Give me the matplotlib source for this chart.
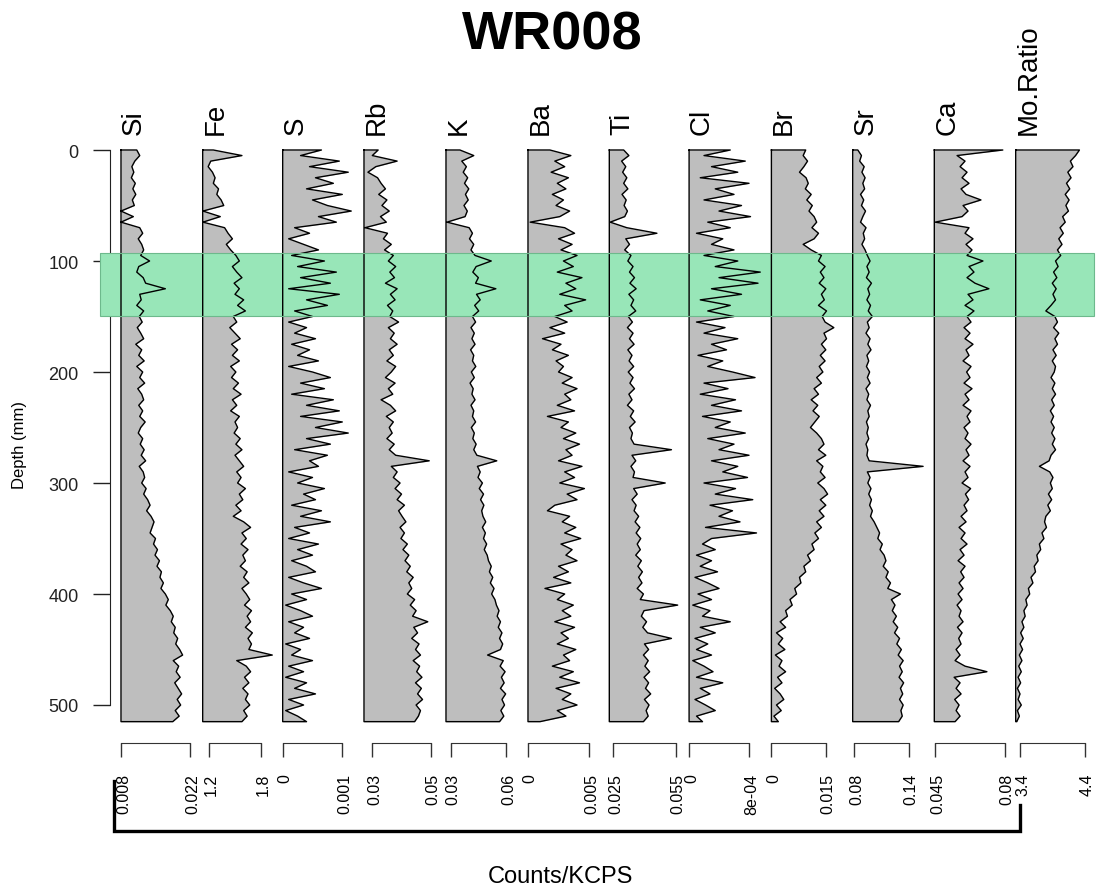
import numpy as np
import matplotlib.pyplot as plt
from matplotlib.lines import Line2D
from matplotlib.patches import Rectangle
from matplotlib.transforms import ScaledTranslation

plt.rcParams['font.family'] = ['Liberation Sans', 'DejaVu Sans']

# ---------------- data (one value every 5 mm) ----------------
depth = np.arange(0, 516, 5)

elements = ['Si', 'Fe', 'S', 'Rb', 'K', 'Ba', 'Ti', 'Cl', 'Br', 'Sr', 'Ca', 'Mo.Ratio']

si = [0.0112, 0.0118, 0.0108, 0.0102, 0.0106, 0.0101, 0.0109, 0.0104, 0.0110, 0.0103,
      0.0107, 0.0080, 0.0105, 0.0080, 0.0118, 0.0124, 0.0115, 0.0122, 0.0126, 0.0120,
      0.0138, 0.0116, 0.0112, 0.0125, 0.0130, 0.0170, 0.0118, 0.0121, 0.0112, 0.0126,
      0.0117, 0.0123, 0.0113, 0.0120, 0.0126, 0.0110, 0.0122, 0.0116, 0.0127, 0.0112,
      0.0124, 0.0118, 0.0128, 0.0114, 0.0122, 0.0126, 0.0116, 0.0124, 0.0118, 0.0129,
      0.0120, 0.0115, 0.0124, 0.0119, 0.0127, 0.0121, 0.0130, 0.0117, 0.0125, 0.0128,
      0.0122, 0.0131, 0.0126, 0.0134, 0.0139, 0.0132, 0.0141, 0.0147, 0.0143, 0.0139,
      0.0150, 0.0146, 0.0154, 0.0149, 0.0158, 0.0153, 0.0162, 0.0159, 0.0166, 0.0161,
      0.0170, 0.0176, 0.0171, 0.0180, 0.0186, 0.0182, 0.0190, 0.0187, 0.0195, 0.0191,
      0.0199, 0.0205, 0.0186, 0.0197, 0.0192, 0.0200, 0.0189, 0.0196, 0.0203, 0.0194,
      0.0201, 0.0190, 0.0198, 0.0185]

fe = [1.25, 1.58, 1.22, 1.19, 1.24, 1.27, 1.25, 1.31, 1.29, 1.34,
      1.37, 1.13, 1.33, 1.13, 1.38, 1.42, 1.47, 1.40, 1.45, 1.51,
      1.55, 1.47, 1.52, 1.58, 1.49, 1.55, 1.50, 1.60, 1.53, 1.62,
      1.48, 1.52, 1.44, 1.50, 1.56, 1.46, 1.53, 1.47, 1.55, 1.45,
      1.51, 1.46, 1.54, 1.48, 1.57, 1.47, 1.52, 1.45, 1.55, 1.50,
      1.53, 1.49, 1.56, 1.51, 1.58, 1.50, 1.55, 1.60, 1.52, 1.57,
      1.53, 1.62, 1.55, 1.59, 1.51, 1.57, 1.48, 1.60, 1.68, 1.58,
      1.63, 1.57, 1.65, 1.59, 1.62, 1.56, 1.64, 1.60, 1.66, 1.58,
      1.63, 1.67, 1.61, 1.69, 1.64, 1.68, 1.62, 1.70, 1.65, 1.69,
      1.66, 1.93, 1.52, 1.63, 1.68, 1.61, 1.66, 1.59, 1.65, 1.62,
      1.67, 1.60, 1.64, 1.58]

s = [0.00065, 0.00030, 0.00095, 0.00045, 0.00110, 0.00055, 0.00085, 0.00040, 0.00100, 0.00050,
     0.00075, 0.00115, 0.00060, 0.00090, 0.00020, 0.00045, 0.00010, 0.00035, 0.00060, 0.00015,
     0.00070, 0.00025, 0.00090, 0.00030, 0.00080, 0.00010, 0.00095, 0.00040, 0.00075, 0.00020,
     0.00050, 0.00010, 0.00040, 0.00020, 0.00055, 0.00015, 0.00045, 0.00025, 0.00060, 0.00010,
     0.00050, 0.00080, 0.00030, 0.00070, 0.00015, 0.00085, 0.00040, 0.00095, 0.00030, 0.00100,
     0.00055, 0.00110, 0.00040, 0.00080, 0.00020, 0.00075, 0.00045, 0.00060, 0.00010, 0.00050,
     0.00025, 0.00070, 0.00035, 0.00055, 0.00015, 0.00065, 0.00030, 0.00080, 0.00020, 0.00045,
     0.00010, 0.00060, 0.00025, 0.00050, 0.00015, 0.00040, 0.00055, 0.00010, 0.00035, 0.00065,
     0.00015, 0.00040, 0.00005, 0.00030, 0.00050, 0.00010, 0.00035, 0.00020, 0.00045, 0.00005,
     0.00030, 0.00015, 0.00050, 0.00010, 0.00035, 0.00005, 0.00040, 0.00020, 0.00055, 0.00010,
     0.00035, 0.00005, 0.00025, 0.00040]

rb = [0.0320, 0.0300, 0.0385, 0.0312, 0.0285, 0.0318, 0.0330, 0.0345, 0.0322, 0.0350,
      0.0333, 0.0358, 0.0328, 0.0348, 0.0275, 0.0352, 0.0338, 0.0365, 0.0342, 0.0372,
      0.0355, 0.0380, 0.0360, 0.0376, 0.0345, 0.0385, 0.0362, 0.0378, 0.0352, 0.0370,
      0.0360, 0.0390, 0.0355, 0.0375, 0.0362, 0.0385, 0.0358, 0.0372, 0.0350, 0.0380,
      0.0365, 0.0345, 0.0378, 0.0355, 0.0370, 0.0330, 0.0362, 0.0380, 0.0348, 0.0372,
      0.0358, 0.0368, 0.0350, 0.0375, 0.0358, 0.0380, 0.0495, 0.0365, 0.0385, 0.0372,
      0.0395, 0.0378, 0.0400, 0.0385, 0.0410, 0.0390, 0.0402, 0.0415, 0.0395, 0.0410,
      0.0398, 0.0420, 0.0405, 0.0425, 0.0412, 0.0430, 0.0418, 0.0440, 0.0425, 0.0435,
      0.0420, 0.0445, 0.0430, 0.0450, 0.0438, 0.0490, 0.0442, 0.0455, 0.0435, 0.0460,
      0.0448, 0.0465, 0.0440, 0.0462, 0.0452, 0.0470, 0.0448, 0.0468, 0.0455, 0.0472,
      0.0450, 0.0465, 0.0458, 0.0445]

k = [0.0350, 0.0425, 0.0360, 0.0385, 0.0368, 0.0392, 0.0375, 0.0398, 0.0380, 0.0395,
     0.0372, 0.0390, 0.0378, 0.0280, 0.0400, 0.0418, 0.0402, 0.0425, 0.0410, 0.0432,
     0.0520, 0.0438, 0.0420, 0.0450, 0.0435, 0.0545, 0.0440, 0.0460, 0.0430, 0.0452,
     0.0418, 0.0435, 0.0410, 0.0428, 0.0415, 0.0432, 0.0408, 0.0425, 0.0418, 0.0436,
     0.0412, 0.0428, 0.0405, 0.0422, 0.0415, 0.0432, 0.0410, 0.0425, 0.0418, 0.0435,
     0.0412, 0.0428, 0.0420, 0.0438, 0.0425, 0.0442, 0.0550, 0.0445, 0.0460, 0.0448,
     0.0472, 0.0455, 0.0478, 0.0462, 0.0480, 0.0468, 0.0475, 0.0490, 0.0472, 0.0488,
     0.0478, 0.0495, 0.0482, 0.0498, 0.0505, 0.0520, 0.0510, 0.0528, 0.0515, 0.0535,
     0.0522, 0.0540, 0.0548, 0.0562, 0.0552, 0.0570, 0.0558, 0.0578, 0.0565, 0.0582,
     0.0570, 0.0500, 0.0585, 0.0568, 0.0595, 0.0575, 0.0590, 0.0570, 0.0598, 0.0578,
     0.0592, 0.0572, 0.0588, 0.0565]

ba = [0.0018, 0.0035, 0.0022, 0.0030, 0.0019, 0.0033, 0.0024, 0.0031, 0.0020, 0.0029,
      0.0023, 0.0034, 0.0026, 0.0002, 0.0030, 0.0038, 0.0025, 0.0036, 0.0027, 0.0040,
      0.0029, 0.0037, 0.0024, 0.0044, 0.0031, 0.0039, 0.0026, 0.0047, 0.0030, 0.0036,
      0.0022, 0.0032, 0.0018, 0.0030, 0.0012, 0.0027, 0.0020, 0.0033, 0.0023, 0.0029,
      0.0025, 0.0036, 0.0028, 0.0040, 0.0030, 0.0035, 0.0024, 0.0038, 0.0016, 0.0033,
      0.0027, 0.0039, 0.0029, 0.0042, 0.0031, 0.0036, 0.0025, 0.0044, 0.0030, 0.0038,
      0.0026, 0.0046, 0.0032, 0.0040, 0.0022, 0.0016, 0.0034, 0.0028, 0.0039, 0.0030,
      0.0043, 0.0027, 0.0036, 0.0031, 0.0040, 0.0025, 0.0033, 0.0021, 0.0035, 0.0014,
      0.0030, 0.0024, 0.0037, 0.0028, 0.0035, 0.0022, 0.0038, 0.0027, 0.0033, 0.0024,
      0.0039, 0.0029, 0.0034, 0.0020, 0.0037, 0.0026, 0.0042, 0.0023, 0.0035, 0.0028,
      0.0040, 0.0024, 0.0031, 0.0010]

ti = [0.0300, 0.0325, 0.0290, 0.0310, 0.0295, 0.0315, 0.0300, 0.0320, 0.0292, 0.0312,
      0.0302, 0.0318, 0.0305, 0.0235, 0.0315, 0.0460, 0.0310, 0.0328, 0.0305, 0.0335,
      0.0320, 0.0345, 0.0328, 0.0352, 0.0330, 0.0360, 0.0325, 0.0348, 0.0335, 0.0358,
      0.0322, 0.0342, 0.0318, 0.0345, 0.0328, 0.0350, 0.0320, 0.0340, 0.0326, 0.0348,
      0.0322, 0.0345, 0.0330, 0.0352, 0.0325, 0.0340, 0.0318, 0.0348, 0.0332, 0.0355,
      0.0328, 0.0342, 0.0335, 0.0350, 0.0530, 0.0340, 0.0358, 0.0335, 0.0352, 0.0345,
      0.0500, 0.0348, 0.0365, 0.0340, 0.0360, 0.0350, 0.0372, 0.0355, 0.0378, 0.0360,
      0.0382, 0.0365, 0.0380, 0.0358, 0.0385, 0.0368, 0.0390, 0.0372, 0.0388, 0.0365,
      0.0395, 0.0380, 0.0560, 0.0398, 0.0385, 0.0410, 0.0392, 0.0415, 0.0530, 0.0400,
      0.0420, 0.0395, 0.0418, 0.0402, 0.0425, 0.0398, 0.0420, 0.0405, 0.0430, 0.0400,
      0.0422, 0.0408, 0.0418, 0.0395]

cl = [0.00055, 0.00020, 0.00075, 0.00030, 0.00065, 0.00015, 0.00080, 0.00035, 0.00060, 0.00020,
      0.00070, 0.00040, 0.00082, 0.00025, 0.00055, 0.00010, 0.00045, 0.00030, 0.00060, 0.00020,
      0.00065, 0.00035, 0.00095, 0.00040, 0.00092, 0.00030, 0.00070, 0.00015, 0.00055, 0.00025,
      0.00060, 0.00010, 0.00048, 0.00020, 0.00065, 0.00030, 0.00050, 0.00012, 0.00045, 0.00025,
      0.00058, 0.00088, 0.00020, 0.00052, 0.00015, 0.00062, 0.00030, 0.00070, 0.00018, 0.00055,
      0.00035, 0.00075, 0.00025, 0.00060, 0.00040, 0.00080, 0.00030, 0.00065, 0.00045, 0.00078,
      0.00020, 0.00062, 0.00035, 0.00085, 0.00028, 0.00058, 0.00040, 0.00068, 0.00022, 0.00090,
      0.00030, 0.00018, 0.00035, 0.00010, 0.00030, 0.00015, 0.00038, 0.00008, 0.00025, 0.00040,
      0.00012, 0.00030, 0.00005, 0.00028, 0.00018, 0.00055, 0.00015, 0.00035, 0.00008, 0.00025,
      0.00010, 0.00030, 0.00005, 0.00020, 0.00032, 0.00010, 0.00045, 0.00015, 0.00028, 0.00008,
      0.00022, 0.00035, 0.00010, 0.00018]

br = [0.0095, 0.0088, 0.0100, 0.0090, 0.0078, 0.0096, 0.0102, 0.0094, 0.0110, 0.0098,
      0.0113, 0.0104, 0.0118, 0.0125, 0.0112, 0.0130, 0.0118, 0.0088, 0.0110, 0.0138,
      0.0130, 0.0148, 0.0135, 0.0145, 0.0132, 0.0150, 0.0138, 0.0146, 0.0130, 0.0152,
      0.0140, 0.0148, 0.0172, 0.0145, 0.0152, 0.0138, 0.0150, 0.0135, 0.0148, 0.0132,
      0.0142, 0.0125, 0.0138, 0.0118, 0.0130, 0.0110, 0.0128, 0.0115, 0.0132, 0.0120,
      0.0108, 0.0125, 0.0138, 0.0145, 0.0130, 0.0150, 0.0125, 0.0142, 0.0135, 0.0148,
      0.0128, 0.0145, 0.0155, 0.0135, 0.0150, 0.0132, 0.0145, 0.0125, 0.0138, 0.0120,
      0.0130, 0.0112, 0.0118, 0.0100, 0.0108, 0.0090, 0.0095, 0.0078, 0.0082, 0.0065,
      0.0070, 0.0052, 0.0058, 0.0040, 0.0045, 0.0025, 0.0040, 0.0015, 0.0032, 0.0020,
      0.0038, 0.0012, 0.0030, 0.0022, 0.0040, 0.0018, 0.0030, 0.0010, 0.0025, 0.0035,
      0.0015, 0.0028, 0.0008, 0.0020]

sr = [0.0840, 0.0880, 0.0860, 0.0910, 0.0885, 0.0920, 0.0895, 0.0915, 0.0870, 0.0905,
      0.0880, 0.0925, 0.0895, 0.0870, 0.0930, 0.0900, 0.0915, 0.0885, 0.0920, 0.0945,
      0.0975, 0.0940, 0.0965, 0.0935, 0.0990, 0.0950, 0.0970, 0.0940, 0.0980, 0.0955,
      0.1000, 0.0945, 0.0965, 0.0930, 0.0975, 0.0950, 0.0985, 0.0940, 0.0960, 0.0935,
      0.0970, 0.0945, 0.0975, 0.0930, 0.0960, 0.0940, 0.0980, 0.0950, 0.0965, 0.0935,
      0.0955, 0.0940, 0.0960, 0.0930, 0.0950, 0.0940, 0.0965, 0.1560, 0.0945, 0.0975,
      0.0950, 0.0985, 0.0960, 0.0990, 0.0970, 0.1000, 0.0980, 0.1020, 0.1050, 0.1080,
      0.1060, 0.1110, 0.1085, 0.1130, 0.1150, 0.1120, 0.1175, 0.1150, 0.1200, 0.1170,
      0.1310, 0.1210, 0.1250, 0.1220, 0.1265, 0.1230, 0.1280, 0.1245, 0.1300, 0.1270,
      0.1320, 0.1285, 0.1340, 0.1300, 0.1330, 0.1295, 0.1345, 0.1310, 0.1335, 0.1300,
      0.1340, 0.1315, 0.1330, 0.1290]

ca = [0.0790, 0.0560, 0.0600, 0.0575, 0.0610, 0.0585, 0.0620, 0.0580, 0.0605, 0.0680,
      0.0590, 0.0615, 0.0585, 0.0450, 0.0620, 0.0600, 0.0640, 0.0605, 0.0635, 0.0610,
      0.0690, 0.0620, 0.0645, 0.0610, 0.0650, 0.0720, 0.0615, 0.0640, 0.0600, 0.0645,
      0.0610, 0.0630, 0.0595, 0.0625, 0.0600, 0.0640, 0.0605, 0.0620, 0.0590, 0.0630,
      0.0608, 0.0625, 0.0595, 0.0635, 0.0600, 0.0620, 0.0590, 0.0630, 0.0610, 0.0625,
      0.0595, 0.0615, 0.0600, 0.0630, 0.0605, 0.0620, 0.0590, 0.0625, 0.0600, 0.0615,
      0.0585, 0.0628, 0.0602, 0.0618, 0.0595, 0.0610, 0.0580, 0.0605, 0.0570, 0.0600,
      0.0580, 0.0610, 0.0575, 0.0595, 0.0565, 0.0600, 0.0578, 0.0595, 0.0570, 0.0590,
      0.0565, 0.0585, 0.0560, 0.0580, 0.0570, 0.0590, 0.0562, 0.0585, 0.0568, 0.0580,
      0.0555, 0.0575, 0.0550, 0.0600, 0.0710, 0.0545, 0.0575, 0.0555, 0.0580, 0.0548,
      0.0570, 0.0555, 0.0575, 0.0550]

mo_ratio = [4.32, 4.26, 4.18, 4.22, 4.14, 4.19, 4.12, 4.17, 4.10, 4.16,
            4.11, 4.15, 4.06, 4.10, 4.02, 4.07, 4.00, 4.05, 3.98, 4.03,
            3.95, 3.99, 3.92, 3.97, 3.90, 3.96, 3.91, 3.95, 3.88, 3.80,
            3.94, 3.98, 3.92, 4.00, 3.94, 3.98, 3.91, 3.96, 3.90, 3.95,
            3.93, 3.88, 3.94, 3.90, 3.95, 3.89, 3.93, 3.87, 3.92, 3.88,
            3.93, 3.89, 3.94, 3.90, 3.95, 3.88, 3.85, 3.70, 3.86, 3.91,
            3.87, 3.90, 3.84, 3.89, 3.83, 3.87, 3.80, 3.78, 3.81, 3.74,
            3.77, 3.70, 3.72, 3.66, 3.68, 3.62, 3.64, 3.57, 3.60, 3.53,
            3.55, 3.49, 3.51, 3.46, 3.48, 3.43, 3.46, 3.41, 3.45, 3.40,
            3.44, 3.39, 3.43, 3.38, 3.42, 3.37, 3.41, 3.36, 3.40, 3.37,
            3.42, 3.36, 3.39, 3.35]

series = [si, fe, s, rb, k, ba, ti, cl, br, sr, ca, mo_ratio]

tick_vals = [(0.008, 0.022), (1.2, 1.8), (0, 0.001), (0.03, 0.05), (0.03, 0.06), (0, 0.005),
             (0.025, 0.055), (0, 0.0008), (0, 0.015), (0.08, 0.14), (0.045, 0.08), (3.4, 4.4)]
tick_text = [('0.008', '0.022'), ('1.2', '1.8'), ('0', '0.001'), ('0.03', '0.05'),
             ('0.03', '0.06'), ('0', '0.005'), ('0.025', '0.055'), ('0', '8e-04'),
             ('0', '0.015'), ('0.08', '0.14'), ('0.045', '0.08'), ('3.4', '4.4')]
depth_ticks = [0, 100, 200, 300, 400, 500]
zone = (92.5, 149.5)

# ---------------- layout (pixels of the 1096x895 picture) ----------------
W, H = 1096, 895
base_px = [121, 202.7, 282.7, 364, 446, 527.7, 609.3, 689, 771, 852.7, 934.3, 1015.7]
tick_px = [(121, 190), (209, 261), (282.7, 342.3), (372.3, 430.7), (450.7, 506),
           (527.4, 589.3), (613.3, 675.6), (688.9, 749), (770.6, 825.7),
           (854.2, 908.6), (935.2, 1004.8), (1020, 1084.6)]
PW = 71          # panel width
TOP = 151        # y of depth 0
PX_MM = 1.11     # pixels per mm
DMAX = 516
green = '#98E6B8'
grey = '#BEBEBE'


def fx(px):
    return px / W


def fy(py):
    return 1 - py / H


fig = plt.figure(figsize=(W / 100, H / 100), dpi=100)
ph = DMAX * PX_MM
bottom = fy(TOP + ph)
shift = ScaledTranslation(2.5 / 100, 0, fig.dpi_scale_trans)

# depth axis
axd = fig.add_axes([fx(110), bottom, 1 / W, ph / H])
axd.set_facecolor('none')
axd.set_ylim(DMAX, 0)
for sp in ['top', 'right', 'bottom']:
    axd.spines[sp].set_visible(False)
axd.spines['left'].set_bounds(0, 500)
axd.spines['left'].set_color('#222222')
axd.set_xticks([])
axd.set_yticks(depth_ticks)
axd.tick_params(axis='y', length=12, width=1, pad=10.5, labelsize=13, colors='#222222')
fig.text(fx(20), fy(445), 'Depth (mm)', rotation=90, ha='center', va='center', fontsize=12)

for i, (name, vals) in enumerate(zip(elements, series)):
    base = base_px[i]
    (t1, t2), (p1, p2) = tick_vals[i], tick_px[i]
    scale = (p2 - p1) / (t2 - t1)
    x0 = t1 - (p1 - base) / scale
    x1 = x0 + PW / scale
    v = np.asarray(vals)

    ax = fig.add_axes([fx(base), bottom, PW / W, ph / H])
    ax.set_facecolor('none')
    ax.set_xlim(x0, x1)
    ax.set_ylim(DMAX, 0)

    ax.fill_betweenx(depth, x0, v, color=grey, lw=0, zorder=1)
    # zone band, stretched to the next panel so the gaps are covered too
    if i == 0:
        a, b = (100 - base) / PW, (base_px[1] - base) / PW
    elif i == len(elements) - 1:
        a, b = 0, (1094 - base) / PW
    else:
        a, b = 0, (base_px[i + 1] - base) / PW
    ax.axhspan(zone[0], zone[1], xmin=a, xmax=b, color=green, lw=0, zorder=2, clip_on=False)
    ax.plot(np.r_[x0, v, x0, x0], np.r_[depth[0], depth, depth[-1], depth[0]],
            color='k', lw=1.0, zorder=3, clip_on=False)

    for sp in ['top', 'right', 'left']:
        ax.spines[sp].set_visible(False)
    ax.spines['bottom'].set_position(('outward', 14.5))
    ax.spines['bottom'].set_bounds(t1, t2)
    ax.spines['bottom'].set_color('#333333')
    ax.set_yticks([])
    ax.set_xticks([t1, t2])
    ax.set_xticklabels(tick_text[i], rotation=90, fontsize=11.5)
    ax.tick_params(axis='x', length=10, width=1, pad=11.5, color='#333333')
    for lab in ax.get_xticklabels():
        lab.set_transform(lab.get_transform() + shift)

    fig.text(fx(base + 20), fy(135), name, rotation=90, rotation_mode='anchor',
             ha='left', va='baseline', fontsize=20)

# zone outline
y_top, y_bot = TOP + zone[0] * PX_MM, TOP + zone[1] * PX_MM
fig.add_artist(Rectangle((fx(100), fy(y_bot)), fx(1094) - fx(100), fy(y_top) - fy(y_bot),
                         transform=fig.transFigure, fill=False, ec='#6DB98C', lw=0.8))

# bracket under the panels
fig.add_artist(Line2D([fx(113.5), fx(113.5), fx(1019.5), fx(1019.5)],
                      [fy(782), fy(832), fy(832), fy(806)],
                      transform=fig.transFigure, color='k', lw=2.4, solid_joinstyle='miter'))
fig.text(fx(560), fy(877), 'Counts/KCPS', ha='center', va='center', fontsize=17)

fig.text(fx(552), fy(50), 'WR008', ha='center', va='baseline', fontsize=39, fontweight='bold')

fig.savefig('out.png', dpi=100)
